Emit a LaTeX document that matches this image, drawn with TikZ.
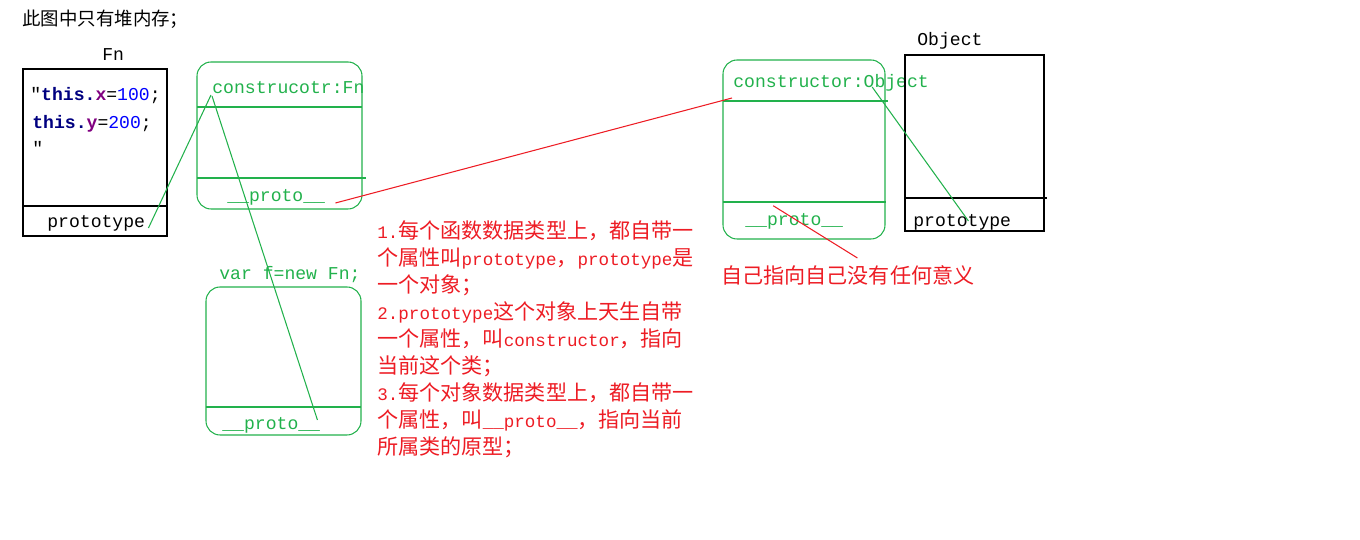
\documentclass[tikz,border=0pt]{standalone}
\usepackage{fontspec}
\usepackage{tikz}
\usetikzlibrary{positioning}
\setmainfont{Liberation Mono}
\newfontfamily\cjk{Noto Sans CJK SC}
\newfontfamily\codefont{Liberation Mono}
\definecolor{mygreen}{RGB}{34,177,76}
\definecolor{myred}{RGB}{237,28,36}
\definecolor{mynavy}{RGB}{0,0,128}
\definecolor{mypurple}{RGB}{128,0,128}
\definecolor{myblue}{RGB}{0,0,255}
\newcommand{\ltn}[1]{{\codefont\fontsize{10}{12}\selectfont #1}}
\tikzset{
  txt/.style={inner sep=0pt, anchor=west,
    font=\codefont\fontsize{10.3}{12}\selectfont},
  gtxt/.style={txt, text=mygreen},
  note/.style={inner sep=0pt, anchor=west, text=myred,
    font=\cjk\fontsize{12}{14}\selectfont},
  objbox/.style={draw=black, line width=0.6pt},
  heapbox/.style={draw=mygreen, line width=0.6pt, rounded corners=8pt},
  gline/.style={draw=mygreen, line width=0.6pt},
  rline/.style={draw=myred, line width=0.6pt}
}

\begin{document}
\begin{tikzpicture}[x=0.02cm, y=-0.02cm]
  \useasboundingbox (0,0) rectangle (1360,540);

  % Title
  \node[txt, font=\cjk\fontsize{10.5}{12}\selectfont] (title) at (22,19) {此图中只有堆内存；};

  % Fn box
  \node[txt] (fnname) at (102,55) {Fn};
  \draw[objbox] (23,69) rectangle (167,236);
  \draw[objbox] (23,206) -- (167,206);
  \node[txt] (code1) at (30,96) {″{\bfseries\color{mynavy}this.}{\bfseries\color{mypurple}x}={\color{myblue}100};};
  \node[txt] (code2) at (32,124) {{\bfseries\color{mynavy}this.}{\bfseries\color{mypurple}y}={\color{myblue}200};};
  \node[txt] (code3) at (32,148) {″};
  \node[txt] (fnproto) at (47,223) {prototype};

  % Fn.prototype
  \draw[heapbox] (197,62) rectangle (362,209);
  \draw[gline] (197,107) -- (362,107);
  \draw[gline] (197,178) -- (366,178);
  \node[gtxt] (ctorfn) at (212,88) {construcotr:Fn};
  \node[gtxt] (protofn) at (227,197) {\_\_proto\_\_};

  % instance f
  \node[gtxt] (varf) at (219,275) {var f=new Fn;};
  \draw[heapbox] (206,287) rectangle (361,435);
  \draw[gline] (206,407) -- (361,407);
  \node[gtxt] (protof) at (222,425) {\_\_proto\_\_};

  % Object.prototype
  \draw[heapbox] (723,60) rectangle (885,239);
  \draw[gline] (723,101) -- (888,101);
  \draw[gline] (723,202) -- (886,202);
  \node[gtxt] (ctorobj) at (733,83) {constructor:Object};
  \node[gtxt] (protoobj) at (745,221) {\_\_proto\_\_};

  % Object box
  \node[txt] (objname) at (917,41) {Object};
  \draw[objbox] (905,55) rectangle (1044,231);
  \draw[objbox] (905,198) -- (1047,198);
  \node[txt] (objproto) at (913,222) {prototype};

  % Notes
  \node[note] (selfnote) at (721,275) {自己指向自己没有任何意义};
  \node[note] (n1) at (377,231) {\ltn{1.}每个函数数据类型上，都自带一};
  \node[note] (n2) at (377,258) {个属性叫\ltn{prototype}，\ltn{prototype}是};
  \node[note] (n3) at (377,285) {一个对象；};
  \node[note] (n4) at (377,312) {\ltn{2.prototype}这个对象上天生自带};
  \node[note] (n5) at (377,339) {一个属性，叫\ltn{constructor}，指向};
  \node[note] (n6) at (377,366) {当前这个类；};
  \node[note] (n7) at (377,393) {\ltn{3.}每个对象数据类型上，都自带一};
  \node[note] (n8) at (377,420) {个属性，叫\ltn{\_\_proto\_\_}，指向当前};
  \node[note] (n9) at (377,447) {所属类的原型；};

  % Links
  \draw[gline] ([shift={(3,5)}]fnproto.east) -- ([shift={(-1,7)}]ctorfn.west);
  \draw[gline] ([shift={(-3,-5)}]protof.east) -- ([shift={(0,8)}]ctorfn.west);
  \draw[rline] ([shift={(10,6)}]protofn.east) -- ([shift={(-1,15)}]ctorobj.west);
  \draw[gline] ([shift={(-57,4)}]ctorobj.east) -- ([shift={(-43,-1)}]objproto.east);
  \draw[rline] ([shift={(-21,-7)}]protoobj.north) -- ([shift={(14,37)}]protoobj.east);
\end{tikzpicture}
\end{document}
